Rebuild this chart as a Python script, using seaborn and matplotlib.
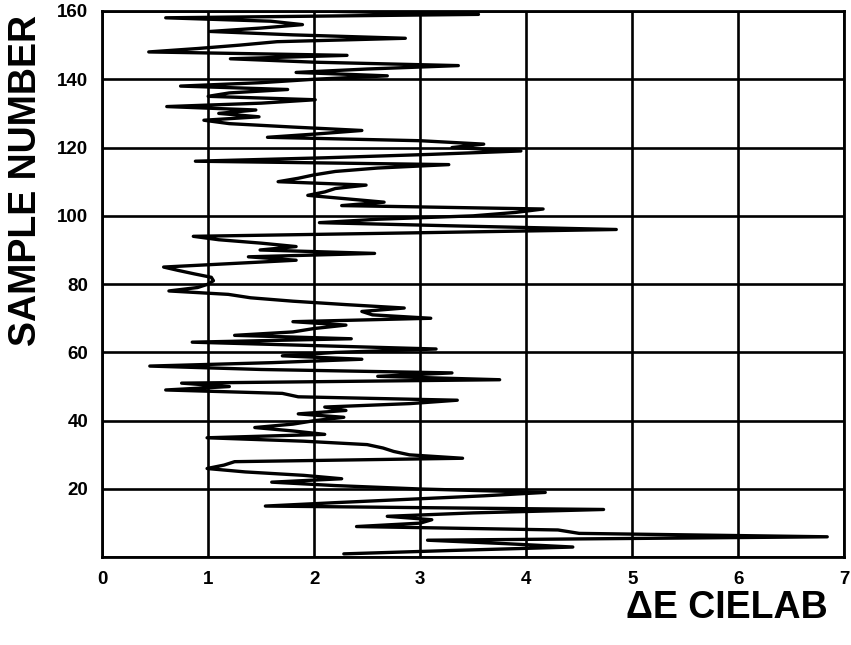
import numpy as np
import pandas as pd
import seaborn as sns
import matplotlib.pyplot as plt

# Delta E values, sample 1 .. 160 (bottom to top)
delta_e = [
    2.28, 3.30, 4.44, 3.80, 3.07, 6.84, 4.50, 4.30, 2.40, 3.00,   # 1-10
    3.11, 2.69, 3.50, 4.73, 1.54, 2.20, 2.90, 3.60, 4.18, 3.00,   # 11-20
    2.20, 1.60, 2.26, 1.90, 1.35, 0.99, 1.15, 1.25, 3.40, 2.90,   # 21-30
    2.75, 2.65, 2.50, 1.90, 0.99, 2.10, 1.80, 1.44, 1.80, 2.00,   # 31-40
    2.28, 1.85, 2.30, 2.10, 2.90, 3.35, 1.85, 1.70, 0.60, 1.20,   # 41-50
    0.75, 3.75, 2.60, 3.30, 1.50, 0.45, 1.60, 2.45, 1.70, 2.20,   # 51-60
    3.15, 2.00, 0.85, 2.35, 1.25, 1.80, 2.00, 2.30, 1.80, 3.10,   # 61-70
    2.55, 2.45, 2.85, 2.30, 1.80, 1.40, 1.19, 0.63, 0.90, 1.00,   # 71-80
    1.05, 1.03, 0.87, 0.72, 0.58, 1.20, 1.83, 1.38, 2.57, 1.49,   # 81-90
    1.83, 1.50, 1.10, 0.86, 2.90, 4.85, 3.40, 2.05, 2.60, 3.50,   # 91-100
    3.90, 4.16, 2.26, 2.66, 2.30, 1.94, 2.10, 2.20, 2.49, 1.66,   # 101-110
    1.85, 2.00, 2.20, 2.60, 3.27, 0.88, 2.10, 3.10, 3.95, 3.30,   # 111-120
    3.60, 3.00, 1.56, 2.03, 2.45, 1.80, 1.20, 0.96, 1.48, 1.10,   # 121-130
    1.45, 0.61, 1.50, 2.01, 1.00, 1.20, 1.75, 0.74, 1.50, 2.00,   # 131-140
    2.69, 1.83, 2.50, 3.36, 2.00, 1.21, 2.31, 0.44, 0.90, 1.30,   # 141-150
    1.65, 2.86, 1.80, 1.02, 1.50, 1.89, 1.59, 0.60, 3.55, 2.00,   # 151-160
]
sample_number = list(range(1, len(delta_e) + 1))

x_ticks = [0, 1, 2, 3, 4, 5, 6, 7]
y_ticks = [0, 20, 40, 60, 80, 100, 120, 140, 160]
y_tick_labels = ["", "20", "40", "60", "80", "100", "120", "140", "160"]

df = pd.DataFrame({"dE": delta_e, "sample": sample_number})

sns.set_style("white")
plt.rcParams["font.family"] = ["Liberation Sans", "DejaVu Sans"]
plt.rcParams["font.weight"] = "bold"
plt.rcParams["text.color"] = "black"
plt.rcParams["xtick.color"] = "black"
plt.rcParams["ytick.color"] = "black"

fig = plt.figure(figsize=(8.51, 6.45), dpi=100)
ax = fig.add_axes([0.12, 0.136, 0.872, 0.847])

sns.lineplot(data=df, x="dE", y="sample", orient="y", sort=False,
             estimator=None, color="black", linewidth=2.4, ax=ax)

ax.set_xlim(0, 7)
ax.set_ylim(0, 160)
ax.set_xticks(x_ticks)
ax.set_yticks(y_ticks)
ax.set_yticklabels(y_tick_labels)
ax.grid(True, color="black", linewidth=1.9)
ax.set_axisbelow(True)
for s in ax.spines.values():
    s.set_color("black")
    s.set_linewidth(2.0)

ax.tick_params(axis="both", direction="out", length=7, width=2,
               labelsize=13.5, pad=3)
for lab in ax.get_xticklabels() + ax.get_yticklabels():
    lab.set_fontweight("bold")

ax.set_xlabel("")
ax.set_ylabel("")
fig.text(0.031, 0.72, "SAMPLE NUMBER", fontsize=27, fontweight="bold",
         rotation=90, ha="center", va="center")
fig.text(0.973, 0.057, "\u0394E CIELAB", fontsize=27, fontweight="bold",
         ha="right", va="center")

fig.savefig("out.png", dpi=100)
